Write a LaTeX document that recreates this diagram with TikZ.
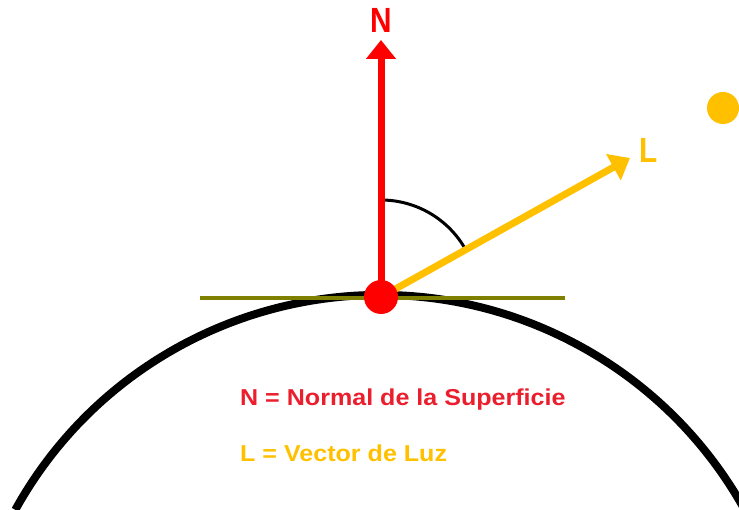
\documentclass[tikz,border=0pt]{standalone}
\usepackage{fontspec}
\setmainfont{Liberation Sans}
\usetikzlibrary{arrows.meta}
\definecolor{nred}{RGB}{255,0,0}
\definecolor{txtred}{RGB}{235,30,45}
\definecolor{lyel}{RGB}{255,192,0}
\definecolor{tanol}{RGB}{128,128,0}
\tikzset{
  vec/.style={line width=7pt, -{Triangle[width=29pt,length=19pt]}},
  lbl/.style={font=\bfseries\fontsize{35}{35}\selectfont, inner sep=0pt},
  legend/.style={font=\bfseries\fontsize{23}{25}\selectfont, inner sep=0pt, anchor=west}
}
\begin{document}
\begin{tikzpicture}[x=1pt,y=1pt]
\useasboundingbox (0,0) rectangle (739,510);
\begin{scope}
\clip (0,0) rectangle (739,510);
% surface
\draw[line width=8pt] (380,-202) ++(151:417) arc (151:28:417);
\end{scope}
% tangent
\coordinate (t1) at (200,212);
\coordinate (t2) at (565,212);
\draw[tanol, line width=3.5pt] (t1) -- (t2);
% point
\coordinate (P) at (381,213);
\coordinate (Ntip) at (381,470);
\coordinate (Ltip) at (630,352);
% angle arc
\draw[line width=3pt] (P) ++(90:97) arc (90:29:97);
% vectors
\draw[vec, lyel] (P) -- (Ltip);
\draw[vec, nred] (P) -- (Ntip);
\node[circle, fill=nred, minimum size=34pt, inner sep=0pt] (dot) at (P) {};
% labels
\node[lbl, text=nred] (Nl) at (381,490) {\scalebox{0.85}[1]{N}};
\node[lbl, text=lyel] (Ll) at (649,360) {\scalebox{0.85}[1]{L}};
% sun
\node[circle, fill=lyel, minimum size=32pt, inner sep=0pt] (sun) at (723,402) {};
% legend
\node[legend, text=txtred] (leg1) at (240,110) {\scalebox{1.09}[1]{N = Normal de la Superficie}};
\node[legend, text=lyel] (leg2) at (240,57) {\scalebox{1.09}[1]{L = Vector de Luz}};
\end{tikzpicture}
\end{document}
